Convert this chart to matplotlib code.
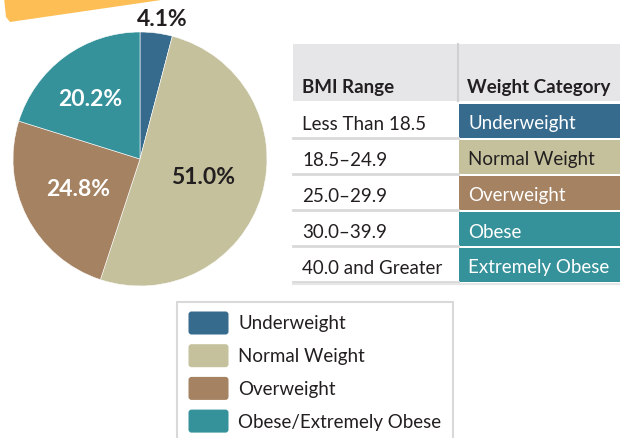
import matplotlib.pyplot as plt
from matplotlib.patches import Rectangle, FancyBboxPatch, Polygon

plt.rcParams['font.family'] = ['Lato', 'DejaVu Sans']

# pie data
slice_names = ["Underweight", "Normal Weight", "Overweight", "Obese/Extremely Obese"]
slice_pct = [4.1, 51.0, 24.8, 20.2]
slice_colors = ["#376b8d", "#c4c19c", "#a58262", "#36929a"]
label_colors = ["#231f20", "#231f20", "white", "white"]

# table data
bmi_ranges = ["Less Than 18.5", "18.5\u201324.9", "25.0\u201329.9", "30.0\u201339.9", "40.0 and Greater"]
weight_cats = ["Underweight", "Normal Weight", "Overweight", "Obese", "Extremely Obese"]
cat_colors = ["#376b8d", "#c4c19c", "#a58262", "#36929a", "#36929a"]
cat_text = ["white", "#231f20", "white", "white", "white"]

W, H = 620, 439
fig = plt.figure(figsize=(W / 100, H / 100), dpi=100)
ax = fig.add_axes([0, 0, 1, 1])


def py(y):
    # pixel rows counted from the top
    return H - y


# orange banner peeking in at the top-left
ax.add_patch(Polygon([(6, py(18)), (10, py(23)), (175, py(-1)), (175, py(-40)), (0, py(-40))],
                     closed=True, color="#fdbf55", lw=0))

# pie
cx, cy, r = 140, py(160), 127
ax.pie(slice_pct, colors=slice_colors, startangle=90, counterclock=False,
       center=(cx, cy), radius=r, frame=True,
       wedgeprops=dict(edgecolor="white", linewidth=0.4))
ax.set_xlim(0, W)
ax.set_ylim(0, H)
ax.set_aspect("auto")
ax.axis("off")

label_pos = [(162, 19), (203, 177), (78, 189), (90, 99)]
for pct, (lx, ly), col in zip(slice_pct, label_pos, label_colors):
    ax.text(lx, py(ly), f"{pct:.1f}%", ha="center", va="center", fontsize=16.5,
            fontweight="bold", color=col)

# table
tx0, tdiv, tx1 = 293, 458, 620
ax.add_patch(Rectangle((tx0, py(102)), tx1 - tx0, 57, color="#e6e6e8", lw=0))
ax.plot([tdiv, tdiv], [py(45), py(102)], color="#d0d0d2", lw=1.5)
ax.text(302, py(87), "BMI Range", fontsize=13.5, fontweight="bold", va="center", color="#231f20")
ax.text(467, py(87), "Weight Category", fontsize=13.5, fontweight="bold", va="center", color="#231f20")

row_h = 36
for i, (rng, cat) in enumerate(zip(bmi_ranges, weight_cats)):
    top = 104 + i * row_h
    ax.add_patch(Rectangle((tdiv + 1, py(top + row_h - 1)), tx1 - tdiv - 1, row_h - 2,
                           color=cat_colors[i], lw=0))
    ax.plot([tx0, tdiv], [py(top + row_h - 1), py(top + row_h - 1)], color="#d9d9d9", lw=2)
    ax.text(302, py(top + row_h / 2 + 2), rng, fontsize=13.5, va="center", color="#231f20")
    ax.text(468, py(top + row_h / 2 + 2), cat, fontsize=13.5, va="center", color=cat_text[i])
ax.plot([tx0, tx1], [py(285), py(285)], color="#e6e6e6", lw=1.5)

# legend box
ax.add_patch(Rectangle((177, py(445)), 276, 142, fill=False, edgecolor="#d9d9d9", lw=1.5))
for i, (name, col) in enumerate(zip(slice_names, slice_colors)):
    yc = 324 + i * 32.7
    ax.add_patch(FancyBboxPatch((190, py(yc + 10)), 37, 20, boxstyle="round,pad=1.5,rounding_size=3",
                                color=col, lw=0))
    ax.text(238, py(yc), name, fontsize=13.5, va="center", color="#231f20")

fig.savefig("out.png", dpi=100)
